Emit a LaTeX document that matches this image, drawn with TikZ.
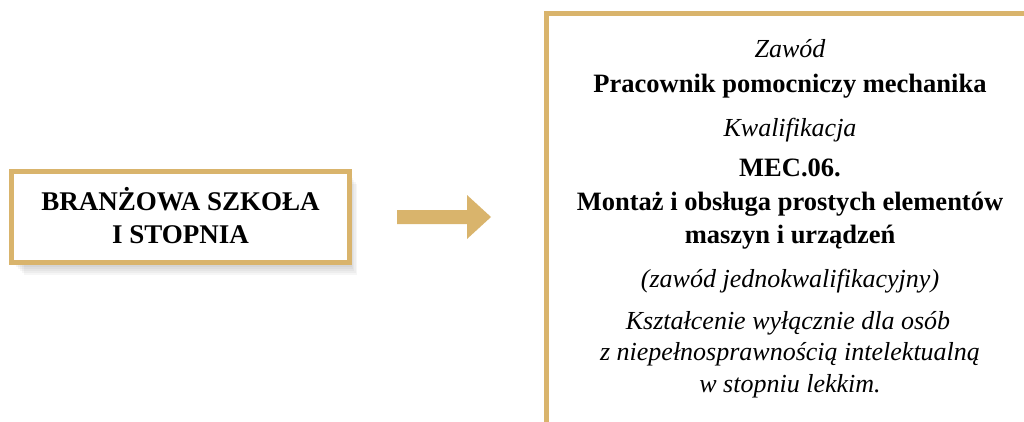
\documentclass[tikz,border=0pt]{standalone}
\usepackage{fontspec}
\setmainfont{Liberation Serif}
\usetikzlibrary{positioning}
\definecolor{gold}{HTML}{D9B46C}
\tikzset{
  frame/.style={draw=gold,line width=5pt,inner sep=0pt},
  bline/.style={font=\bfseries\fontsize{26.5}{30}\selectfont,anchor=base,inner sep=0pt},
  iline/.style={font=\itshape\fontsize{26}{30}\selectfont,anchor=base,inner sep=0pt},
}
\begin{document}
\begin{tikzpicture}[x=1pt,y=-1pt]
\useasboundingbox (0,0) rectangle (1024,421);
\clip (0,0) rectangle (1024,421);

% soft shadow of the left box
\foreach \s in {2,4,...,12}
  \fill[black,opacity=0.035] (11.5+\s,171.5+\s) rectangle (349.5+\s*0.6,262.5+\s);

\node[frame,fill=white,minimum width=338pt,minimum height=91pt] (school) at (180.5,217) {};
\node[bline,font=\bfseries\fontsize{27}{30}\selectfont] (school1) at (180.5,210) {BRANŻOWA SZKOŁA};
\node[bline,font=\bfseries\fontsize{27}{30}\selectfont] (school2) at (180.5,243) {I STOPNIA};

% arrow
\fill[gold] (397,210) -- (467,210) -- (467,195) -- (491,217) -- (467,239) -- (467,224) -- (397,224) -- cycle;

\node[frame,minimum width=520pt,minimum height=440pt,anchor=north west] (qual) at (544,11) {};

\node[iline] (job)   at (790,57)  {Zawód};
\node[bline] (jobn)  at (790,92)  {Pracownik pomocniczy mechanika};
\node[iline] (qal)   at (790,136) {Kwalifikacja};
\node[bline] (qal1)  at (790,176) {MEC.06.};
\node[bline] (qal2)  at (790,210) {Montaż i obsługa prostych elementów};
\node[bline] (qal3)  at (790,243) {maszyn i urządzeń};
\node[iline] (one)   at (790,287) {(zawód jednokwalifikacyjny)};
\node[iline] (note1) at (788,329) {Kształcenie wyłącznie dla osób};
\node[iline] (note2) at (790,360) {z niepełnosprawnością intelektualną};
\node[iline] (note3) at (790,392) {w stopniu lekkim.};
\end{tikzpicture}
\end{document}
